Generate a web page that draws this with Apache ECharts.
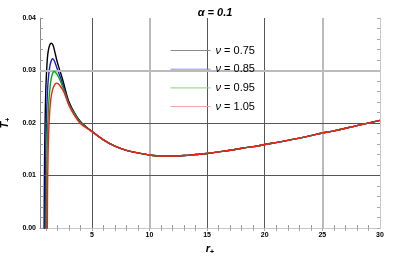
<!DOCTYPE html>
<html><head><meta charset="utf-8">
<script src="https://cdn.jsdelivr.net/npm/echarts@6/dist/echarts.min.js"></script>
<style>html,body{margin:0;padding:0;background:#fff}#c{width:415px;height:260px}</style>
</head><body><div id="c"></div>
<script>
// ---- data ----
const seriesNames = ['ν = 0.75', 'ν = 0.85', 'ν = 0.95', 'ν = 1.05'];
const seriesColors = ['#000000', '#1a1ad8', '#00b000', '#ff1a1a'];
const legendColors = ['#8c8c8c', '#8f8fec', '#7fd47f', '#ff9a9a'];
// small-r branch of each curve [r+, T+]
const nu075 = [[0.85,-0.005],[0.87,0.005],[0.9,0.014],[0.95,0.021],[1.0,0.026],[1.1,0.031],[1.2,0.0335],[1.35,0.0349],[1.5,0.0352],[1.65,0.0347],[1.8,0.0334],[2.0,0.0316],[2.25,0.0298],[2.5,0.028],[2.75,0.0259],[3.0,0.0241],[3.5,0.0219],[4.0,0.0203],[4.5,0.0193]];
const nu085 = [[0.94,-0.005],[0.96,0.006],[1.0,0.014],[1.05,0.02],[1.1,0.0235],[1.2,0.0278],[1.35,0.0308],[1.5,0.032],[1.6,0.03225],[1.75,0.0318],[2.0,0.0303],[2.25,0.0288],[2.5,0.0272],[2.75,0.0255],[3.0,0.0238],[3.5,0.0218],[4.0,0.0202],[4.5,0.0192]];
const nu095 = [[1.04,-0.005],[1.06,0.006],[1.1,0.013],[1.15,0.018],[1.25,0.0235],[1.4,0.0274],[1.55,0.0292],[1.73,0.0298],[2.0,0.0292],[2.25,0.0281],[2.5,0.0267],[2.75,0.0252],[3.0,0.0236],[3.5,0.0217],[4.0,0.0201],[4.5,0.0192]];
const nu105 = [[1.13,-0.005],[1.15,0.006],[1.2,0.014],[1.3,0.0205],[1.43,0.0244],[1.6,0.0264],[1.8,0.0274],[1.96,0.0276],[2.2,0.0272],[2.5,0.0262],[2.75,0.0249],[3.0,0.0234],[3.5,0.0214],[4.0,0.0199],[4.5,0.0191]];
// common large-r branch (all curves coincide)
const commonTail = [[5,0.0184],[6,0.0168],[7,0.0156],[8,0.0148],[9,0.0143],[10,0.0139],[11,0.0137],[12,0.0137],[13,0.0138],[14,0.014],[15,0.0142],[16,0.0145],[17,0.0148],[18,0.0152],[19,0.0155],[20,0.0159],[22,0.0167],[24,0.0176],[25,0.0181],[26,0.0185],[28,0.0195],[30,0.0205]];
const xTickLabels = [5, 10, 15, 20, 25, 30];
const xMinorTicks = [1,2,3,4,5,6,7,8,9,10,11,12,13,14,15,16,17,18,19,20,21,22,23,24,25,26,27,28,29];
const yTickLabels = [0, 0.01, 0.02, 0.03, 0.04];
const vGridDark = [5, 15, 20];
const vGridLight = [10, 25];
const hGridDark = [0.01, 0.02];
const hGridLight = [0.03];
const curves = [nu075, nu085, nu095, nu105];

const chart = echarts.init(document.getElementById('c'), null, {renderer: 'canvas'});
const F = '"Liberation Sans", Arial, sans-serif';
const gridMarks = [];
vGridDark.forEach(v => gridMarks.push({xAxis: v, lineStyle: {color: '#555', width: 1, type: 'solid'}}));
vGridLight.forEach(v => gridMarks.push({xAxis: v, lineStyle: {color: '#bbb', width: 2, type: 'solid'}}));
hGridDark.forEach(v => gridMarks.push({yAxis: v, lineStyle: {color: '#555', width: 1, type: 'solid'}}));
hGridLight.forEach(v => gridMarks.push({yAxis: v, lineStyle: {color: '#bbb', width: 2, type: 'solid'}}));

const series = [{
  type: 'line', name: '_grid', data: [], z: 1, silent: true,
  markLine: {silent: true, symbol: 'none', label: {show: false}, animation: false, data: gridMarks}
}];
curves.forEach((c, i) => {
  series.push({
    type: 'line', name: seriesNames[i], data: c.concat(commonTail), showSymbol: false, symbol: 'none',
    smooth: 0.3, clip: true, z: 3 + i,
    lineStyle: {color: seriesColors[i], width: 1.4}, itemStyle: {color: seriesColors[i]}
  });
});

const axisGray = '#888';
chart.setOption({
  animation: false,
  title: {text: 'α = 0.1', left: 210, top: 2, textAlign: 'center',
    textStyle: {fontFamily: F, fontSize: 11, fontWeight: 'bold', fontStyle: 'italic', color: '#000'}},
  grid: {left: 40, right: 35, top: 18, bottom: 32, outerBoundsMode: 'none', containLabel: false},
  legend: {
    orient: 'vertical', left: 165, top: 40, itemWidth: 40, itemHeight: 12, itemGap: 7.7, z: 10,
    data: seriesNames.map((n, i) => ({name: n, itemStyle: {opacity: 0}, lineStyle: {color: legendColors[i], opacity: 1, width: 1}})),
    formatter: n => '{i|ν}{t|' + n.slice(1) + '}',
    textStyle: {fontFamily: F, fontSize: 11, color: '#000',
      rich: {i: {fontFamily: F, fontSize: 11, fontStyle: 'italic', color: '#000'}, t: {fontFamily: F, fontSize: 11, color: '#000'}}},
    selectedMode: false
  },
  xAxis: [{
    type: 'value', min: 0.5, max: 30, position: 'bottom',
    name: '{b|r}{s|+}', nameLocation: 'middle', nameGap: 12,
    nameTextStyle: {rich: {b: {fontFamily: F, fontSize: 11, fontWeight: 'bold', fontStyle: 'italic', color: '#000'}, s: {fontFamily: F, fontSize: 7, fontWeight: 'bold', color: '#000', padding: [6, 0, 0, 0]}}},
    axisLine: {show: true, lineStyle: {color: axisGray, width: 1}},
    axisTick: {show: true, inside: true, length: 3, customValues: xMinorTicks, lineStyle: {color: '#999'}},
    axisLabel: {customValues: xTickLabels, fontFamily: F, fontSize: 7, fontWeight: 'bold', color: '#000', margin: 4},
    splitLine: {show: false}
  }, {
    type: 'value', min: 0.5, max: 30, position: 'top',
    axisLine: {show: true, lineStyle: {color: '#c8c8c8', width: 1}},
    axisTick: {show: true, inside: true, length: 3, customValues: xMinorTicks, lineStyle: {color: '#aaa'}},
    axisLabel: {show: false}, splitLine: {show: false}
  }],
  yAxis: [{
    type: 'value', min: 0, max: 0.04, interval: 0.01, position: 'left',
    name: '{b|T}{s|+}', nameLocation: 'middle', nameGap: 26, nameRotate: 90,
    nameTextStyle: {rich: {b: {fontFamily: F, fontSize: 11, fontWeight: 'bold', fontStyle: 'italic', color: '#000'}, s: {fontFamily: F, fontSize: 7, fontWeight: 'bold', color: '#000', padding: [6, 0, 0, 0]}}},
    axisLine: {show: true, lineStyle: {color: axisGray, width: 1}},
    axisTick: {show: true, inside: true, length: 3, lineStyle: {color: '#999'}},
    minorTick: {show: true, splitNumber: 5, length: 3, lineStyle: {color: '#999'}},
    axisLabel: {formatter: v => v.toFixed(2), fontFamily: F, fontSize: 7, fontWeight: 'bold', color: '#000', margin: 4},
    splitLine: {show: false}
  }, {
    type: 'value', min: 0, max: 0.04, interval: 0.01, position: 'right',
    axisLine: {show: true, lineStyle: {color: '#c8c8c8', width: 1}},
    axisTick: {show: true, inside: true, length: 3, lineStyle: {color: '#aaa'}},
    minorTick: {show: true, splitNumber: 5, length: 3, lineStyle: {color: '#aaa'}},
    axisLabel: {show: false}, splitLine: {show: false}
  }],
  series: series
});
</script></body></html>
